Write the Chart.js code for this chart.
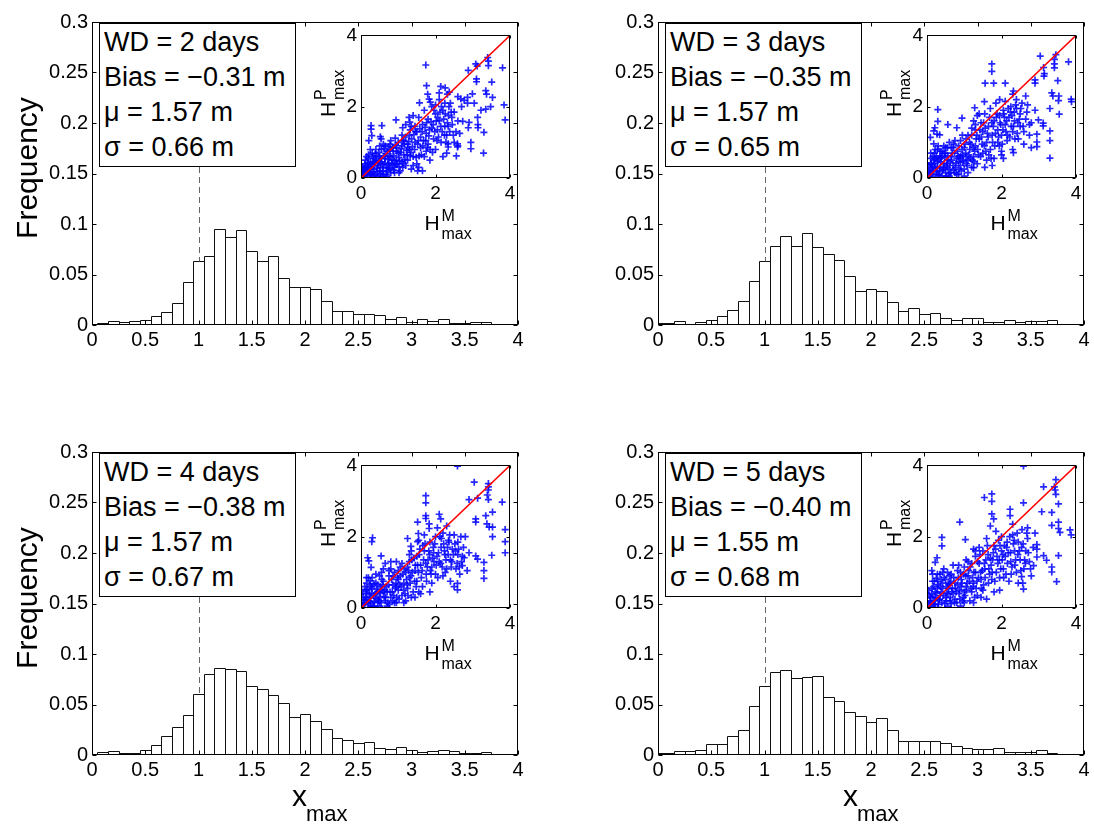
<!DOCTYPE html>
<html>
<head>
<meta charset="utf-8">
<title>x_max histograms</title>
<script src="https://cdn.jsdelivr.net/npm/chart.js@4.4.1/dist/chart.umd.min.js"></script>
<style>
  body{margin:0;background:#fff;}
  #fig{position:relative;width:1094px;height:826px;overflow:hidden;font-family:'Liberation Sans',Arial,Helvetica,sans-serif;color:#000;}
  #fig canvas{position:absolute;}
  .stats{position:absolute;width:197px;height:144px;border:1px solid #000;background:#fff;box-sizing:border-box;
         font-size:27px;line-height:35px;padding:1px 0 0 4px;white-space:nowrap;}
  .ylab{position:absolute;font-size:30px;transform:translate(-50%,-50%) rotate(-90deg);white-space:nowrap;}
  .xlab{position:absolute;width:0;height:0;}
  .xlab span,.hl span{position:absolute;line-height:1;white-space:nowrap;}
  .hl{position:absolute;width:0;height:0;transform-origin:0 0;}
</style>
</head>
<body>
<div id="fig"></div>
<script>
/* ── DATA ── */
const binCenters = [0,0.1,0.2,0.3,0.4,0.5,0.6,0.7,0.8,0.9,1,1.1,1.2,1.3,1.4,1.5,1.6,1.7,1.8,1.9,2,
                    2.1,2.2,2.3,2.4,2.5,2.6,2.7,2.8,2.9,3,3.1,3.2,3.3,3.4,3.5,3.6,3.7,3.8,3.9,4];

const freqWD2 = [0.001,0.0016,0.0039,0.0026,0.0036,0.0045,0.0087,0.0133,0.0217,0.0427,0.063,0.0686,0.0948,0.0874,0.0945,
                 0.0735,0.0631,0.068,0.0463,0.0372,0.0379,0.0356,0.024,0.0139,0.0139,0.0113,0.0104,0.0097,0.0055,0.0081,
                 0.0032,0.0055,0.0036,0.0055,0.0023,0.0016,0.0029,0.0026,0.0006,0.0013,0.0003];
const freqWD3 = [0.0015,0.002,0.0042,0.0006,0.0026,0.0045,0.0094,0.0149,0.024,0.0437,0.063,0.078,0.0877,0.078,0.0906,
                 0.0773,0.0702,0.064,0.0485,0.034,0.0359,0.034,0.0227,0.0139,0.0165,0.0104,0.0117,0.0068,0.0045,0.0074,
                 0.0074,0.0026,0.0026,0.0045,0.0029,0.0036,0.0042,0.0049,0.0003,0.0003,0];
const freqWD4 = [0.001,0.003,0.0042,0.0023,0.0023,0.0052,0.01,0.0188,0.0278,0.04,0.0608,0.0799,0.0858,0.0851,0.0832,
                 0.0686,0.065,0.0595,0.0515,0.0372,0.041,0.0333,0.0259,0.0172,0.0146,0.0123,0.0133,0.0065,0.0055,0.0084,
                 0.0045,0.0032,0.0036,0.0052,0.0036,0.0016,0.002,0.003,0.001,0.0006,0.0003];
const freqWD5 = [0.0016,0.0023,0.0042,0.0039,0.0052,0.0104,0.0104,0.019,0.025,0.0485,0.0686,0.082,0.0841,0.0767,0.0777,
                 0.0786,0.0573,0.0537,0.043,0.0382,0.0327,0.0366,0.0246,0.0139,0.0139,0.0136,0.0139,0.0117,0.0087,0.0068,
                 0.0055,0.0055,0.0065,0.0032,0.0026,0.0026,0.0045,0.0023,0,0.001,0];

const xTickVals = [0,0.5,1,1.5,2,2.5,3,3.5,4];
const xTickLabels = ['0','0.5','1','1.5','2','2.5','3','3.5','4'];
const yTickVals = [0,0.05,0.1,0.15,0.2,0.25,0.3];
const yTickLabels = ['0','0.05','0.1','0.15','0.2','0.25','0.3'];
const insetTickVals = [0,2,4];
const insetTickLabels = ['0','2','4'];
const diagLine = [0,4];
const markAt = 1;

const wdText = ['WD = 2 days','WD = 3 days','WD = 4 days','WD = 5 days'];
const biasText = ['\u22120.31','\u22120.35','\u22120.38','\u22120.40'];
const muText = ['1.57','1.57','1.57','1.55'];
const sigmaText = ['0.66','0.65','0.67','0.68'];

// H^M_max (x) vs H^P_max (y)
const scatterWD2 = [
  [1.74,3.17],[3.08,3.2],[3.12,3.14],[3.4,3.38],[3.42,3.28],[3.42,3.15],[3.8,3.09],[3.1,2.78],[3.1,2.7],[2.88,3.02],
  [3.51,2.69],[3.35,2.45],[3.37,2.35],[3.53,2.26],[3.84,2.05],[3.87,1.63],[3.48,2.0],[3.35,1.93],[3.22,1.9],[3.13,1.7],
  [3.14,1.5],[3.14,1.41],[3.3,1.28],[2.95,1.0],[2.95,0.82],[3.29,0.7],[2.56,0.62],[2.9,1.56],[2.88,1.41],[2.73,1.59],
  [2.59,0.96],[2.59,0.87],[2.34,0.96],[2.34,0.87],[1.76,2.59],[1.79,2.35],[1.83,2.21],[1.86,2.13],[2.1,2.39],[2.14,2.57],
  [2.26,2.53],[2.37,2.41],[2.32,2.35],[2.6,2.28],[2.68,2.22],[2.77,2.18],[2.86,2.26],[2.99,2.36],[3.04,2.1],[2.86,2.1],
  [1.57,2.11],[0.94,1.63],[0.56,1.47],[0.27,1.47],[0.27,1.37],[0.29,1.19],[0.21,1.05],[0.52,1.16],[0.54,1.1],[1.29,1.7],
  [1.31,1.57],[1.12,1.41],
  [0.05,0.05],[0.1,0.2],[0.15,0.1],[0.2,0.3],[0.25,0.15],[0.3,0.05],[0.3,0.4],[0.35,0.25],[0.4,0.1],[0.4,0.5],
  [0.45,0.35],[0.5,0.2],[0.5,0.6],[0.55,0.45],[0.6,0.3],[0.6,0.1],[0.1,0.4],[0.2,0.55],[0.05,0.3],[0.15,0.6],
  [0.3,0.7],[0.45,0.05],[0.65,0.55],[0.7,0.75],[0.7,0.2],[0.75,0.4],[0.8,0.6],[0.85,0.85],[0.9,0.3],[0.95,0.5],
  [1.0,0.7],[1.0,1.0],[1.05,0.2],[1.1,0.45],[1.1,0.9],[1.15,0.65],[1.2,1.15],[0.65,0.9],[0.8,1.05],[0.9,0.15],
  [0.7,0.05],[0.55,0.8],[0.4,0.8],[0.6,0.95],[1.2,0.35],[0.85,0.35],[0.95,0.75],[0.35,0.55],[0.25,0.45],[0.8,0.15],
  [1.25,0.5],[1.3,0.8],[1.3,1.2],[1.35,1.45],[1.4,0.6],[1.45,1.0],[1.5,1.3],[1.5,0.4],[1.55,1.7],[1.6,0.85],
  [1.6,1.15],[1.65,1.5],[1.7,0.6],[1.7,1.9],[1.75,1.25],[1.8,0.95],[1.8,1.65],[1.85,0.5],[1.9,1.4],[1.95,1.1],
  [2.0,1.8],[2.0,0.8],[1.4,1.75],[1.2,1.5],[1.55,0.3],[1.65,0.2],[1.9,2.0],[1.25,0.95],[1.4,0.35],[1.75,0.75],
  [2.05,1.35],[2.1,1.6],[2.15,1.0],[2.2,1.9],[2.25,1.45],[2.3,0.7],[2.3,1.2],[2.35,1.75],[2.4,2.1],[2.45,1.5],
  [2.5,1.0],[2.5,1.85],[2.55,1.3],[2.6,0.9],[2.1,2.2],[2.2,0.6],[2.6,1.6],[2.7,2.0],[2.65,1.25],[2.0,2.05],[2.25,2.1],
  [0.08,0.12],[0.12,0.32],[0.18,0.22],[0.22,0.08],[0.28,0.32],[0.32,0.18],[0.38,0.42],[0.42,0.28],[0.48,0.48],[0.52,0.12],
  [0.58,0.38],[0.62,0.62],[0.68,0.28],[0.72,0.52],[0.78,0.78],[0.82,0.42],[0.88,0.62],[0.92,0.92],[0.98,0.4],[1.02,0.58],
  [1.08,0.82],[1.12,0.3],[1.18,0.52],[1.22,0.78],[1.28,1.02],[0.18,0.42],[0.32,0.6],[0.48,0.72],[0.62,0.82],[0.78,0.95],
  [0.92,1.12],[0.58,0.18],[0.72,0.38],[0.88,0.22],[1.02,0.32],[1.32,0.62],[1.38,0.88],[1.42,1.22],[1.48,0.58],[1.52,0.95],
  [1.58,1.38],[1.62,0.65],[1.68,1.05],[1.72,1.42],[1.78,0.85],[1.82,1.18],[1.88,1.58],[1.92,0.72],[1.98,1.3],[2.02,1.6],
  [2.08,1.15],[2.12,1.85],[2.18,1.3],[2.22,1.65],[2.28,1.0],[2.32,1.55],[2.38,1.3],[2.42,1.85],[2.48,1.2],[1.1,1.2],
  [0.25,0.8],[0.12,0.5],[0.05,0.2],[0.42,0.62],[0.68,0.1],[0.78,0.25],[1.35,0.25],[1.52,0.2],[1.15,1.05],[1.45,1.45],
  [0.02,0.1],[0.06,0.25],[0.1,0.05],[0.14,0.18],[0.16,0.35],[0.22,0.25],[0.26,0.38],[0.28,0.12],[0.34,0.45],[0.36,0.08],
  [0.44,0.18],[0.46,0.42],[0.52,0.3],[0.54,0.55],[0.56,0.05],[0.64,0.42],[0.66,0.68],[0.74,0.28],[0.76,0.62],[0.84,0.5],
  [0.86,0.75],[0.94,0.38],[0.96,0.85],[1.04,0.48],[1.06,0.72],[1.14,0.4],[1.16,0.95],[1.24,0.65],[1.26,0.85],[1.34,0.72],
  [1.36,1.1],[1.44,0.8],[1.46,1.3],[1.54,1.05],[1.56,0.62],[1.64,1.3],[1.66,0.9],[1.74,1.05],[1.76,1.55],[1.84,1.35],
  [1.86,0.8],[1.94,1.5],[1.96,1.9],[2.04,1.05],[2.06,1.7],[2.14,1.45],[2.16,2.0],[2.24,1.2],[2.26,1.8],[2.34,1.45],
  [2.36,2.0],[2.44,1.7],[0.9,0.48],[0.74,0.88],[0.5,0.9],[0.38,0.68],[0.2,0.65],[1.12,1.05],[1.32,1.35],[1.02,0.15]
];
const scatterWD3 = [
  [1.74,3.2],[1.74,2.99],[3.04,3.42],[3.46,3.46],[3.42,3.33],[3.42,3.2],[3.42,3.09],[3.8,3.26],[3.13,3.1],[2.9,2.75],
  [2.9,2.66],[3.51,2.73],[3.15,2.93],[3.14,2.86],[3.35,2.39],[3.38,2.3],[3.54,2.3],[3.53,2.17],[3.87,2.21],[3.88,2.14],
  [3.55,1.79],[3.3,1.95],[2.99,1.63],[3.12,1.54],[3.12,1.46],[3.3,1.32],[2.95,1.23],[2.95,1.01],[2.95,0.88],[3.3,1.05],
  [3.3,0.56],[2.32,0.71],[2.0,0.65],[1.25,0.29],[1.56,2.66],[1.79,2.66],[2.1,2.66],[2.32,2.44],[1.28,1.97],[1.54,2.14],
  [0.29,1.92],[0.29,1.59],[0.21,1.41],[0.18,1.32],[0.27,1.23],[0.56,1.5],[0.94,1.68],[0.8,1.41],[0.09,1.14],[0.34,1.21],
  [0.18,0.96],
  [0.05,0.1],[0.1,0.25],[0.15,0.05],[0.2,0.4],[0.25,0.2],[0.3,0.1],[0.3,0.5],[0.35,0.3],[0.4,0.05],[0.4,0.6],
  [0.45,0.4],[0.5,0.15],[0.5,0.7],[0.55,0.5],[0.6,0.25],[0.05,0.35],[0.1,0.55],[0.2,0.7],[0.15,0.3],[0.35,0.75],
  [0.6,0.05],[0.65,0.6],[0.7,0.85],[0.7,0.35],[0.75,0.15],[0.8,0.55],[0.85,0.9],[0.9,0.35],[0.95,0.65],[1.0,0.85],
  [1.0,0.25],[1.05,1.1],[1.1,0.5],[1.15,0.8],[1.2,1.2],[1.2,0.3],[0.6,1.0],[0.8,0.1],[0.45,0.9],[0.9,1.05],
  [0.25,0.6],[0.55,0.3],[0.85,0.45],[1.05,0.6],[0.3,0.9],
  [1.25,0.6],[1.3,0.9],[1.3,1.35],[1.35,0.4],[1.4,1.1],[1.45,1.55],[1.5,0.7],[1.5,1.3],[1.55,1.8],[1.6,0.5],
  [1.6,1.0],[1.65,1.45],[1.7,0.8],[1.7,1.95],[1.75,1.2],[1.8,1.6],[1.8,0.55],[1.85,2.1],[1.9,1.0],[1.9,1.35],
  [1.95,1.75],[2.0,0.75],[2.0,1.2],[2.05,1.9],[1.4,1.8],[1.25,1.6],[1.55,0.3],[1.75,0.35],[1.95,2.2],
  [2.1,1.5],[2.1,2.15],[2.15,1.05],[2.2,1.7],[2.25,2.0],[2.3,1.3],[2.3,0.8],[2.35,1.6],[2.4,1.95],[2.4,2.2],
  [2.45,1.1],[2.5,1.45],[2.5,1.8],[2.55,2.1],[2.6,0.95],[2.6,1.3],[2.65,1.65],[2.7,2.05],[2.75,1.2],[2.8,1.55],
  [2.8,0.85],[2.9,1.9],[2.3,2.35],[2.05,0.55],[2.65,2.3],
  [0.08,0.15],[0.12,0.38],[0.18,0.18],[0.22,0.55],[0.28,0.28],[0.32,0.08],[0.38,0.45],[0.42,0.22],[0.48,0.58],[0.52,0.35],
  [0.58,0.12],[0.62,0.45],[0.68,0.7],[0.72,0.22],[0.78,0.42],[0.82,0.75],[0.88,0.55],[0.92,0.2],[0.98,0.5],[1.02,0.95],
  [1.08,0.35],[1.12,0.65],[1.18,0.95],[1.22,0.5],[1.28,0.75],[0.18,0.5],[0.35,0.62],[0.5,0.85],[0.65,0.85],[0.75,1.05],
  [0.95,1.2],[0.45,0.25],[0.85,0.1],[1.1,0.15],[1.32,1.1],[1.38,0.65],[1.42,1.35],[1.48,0.95],[1.52,1.55],[1.58,0.75],
  [1.62,1.25],[1.68,1.7],[1.72,0.55],[1.78,1.45],[1.82,0.9],[1.88,1.8],[1.92,1.15],[1.98,1.5],[2.02,0.95],[2.08,1.7],
  [2.12,1.3],[2.18,1.95],[2.22,1.15],[2.28,1.75],[2.32,1.45],[2.38,2.05],[2.42,1.25],[2.48,1.65],[2.52,1.95],[2.58,1.45],
  [0.1,0.7],[0.28,0.8],[1.2,1.4],[1.35,1.75],[2.68,1.85],[2.75,1.5],
  [0.02,0.2],[0.06,0.05],[0.1,0.42],[0.14,0.2],[0.16,0.6],[0.22,0.32],[0.26,0.1],[0.28,0.45],[0.34,0.18],[0.36,0.55],
  [0.44,0.3],[0.46,0.7],[0.52,0.05],[0.54,0.4],[0.56,0.62],[0.64,0.15],[0.66,0.5],[0.74,0.7],[0.76,0.3],[0.84,0.6],
  [0.86,0.25],[0.94,0.8],[0.96,0.45],[1.04,0.7],[1.06,0.4],[1.14,1.0],[1.16,0.55],[1.24,0.85],[1.26,0.45],[1.34,1.2],
  [1.36,0.8],[1.44,0.6],[1.46,1.15],[1.54,0.9],[1.56,1.4],[1.64,1.15],[1.66,0.65],[1.74,1.55],[1.76,1.0],[1.84,1.25],
  [1.86,1.7],[1.94,0.9],[1.96,1.55],[2.04,1.35],[2.06,1.8],[2.14,1.6],[2.16,1.2],[2.24,1.85],[2.26,1.45],[2.34,1.85],
  [2.36,1.1],[2.44,1.55],[0.9,0.62],[0.72,0.95],[0.55,0.85],[0.4,0.75],[0.22,0.8],[1.1,1.2],[1.3,1.5],[1.0,0.05]
];
const scatterWD4 = [
  [2.59,3.98],[3.04,3.53],[3.42,3.49],[3.42,3.4],[3.42,3.31],[3.39,3.17],[3.42,3.04],[2.9,3.04],[3.79,2.97],[3.13,3.08],
  [3.53,2.69],[1.74,3.15],[1.74,2.95],[1.74,2.59],[1.74,2.51],[1.52,2.41],[1.83,2.36],[1.83,2.23],[2.1,2.63],[2.14,2.5],
  [3.08,2.5],[3.08,2.41],[3.35,2.59],[3.38,2.36],[3.44,2.27],[3.53,2.27],[3.53,2.0],[3.87,2.2],[3.87,1.86],[3.87,1.55],
  [3.51,1.48],[3.3,1.28],[3.3,1.05],[3.3,0.83],[3.08,1.46],[3.13,1.37],[2.77,1.41],[2.72,1.19],[2.59,0.69],[2.59,0.51],
  [0.31,1.97],[0.29,1.86],[0.18,1.41],[0.21,1.32],[0.27,1.14],[0.54,1.46],[0.8,1.3],[0.25,0.76],[1.25,1.95],[1.54,2.09],
  [1.52,1.86],[1.34,1.73],
  [0.05,0.08],[0.1,0.22],[0.15,0.4],[0.2,0.12],[0.25,0.3],[0.3,0.55],[0.35,0.18],[0.4,0.4],[0.45,0.65],[0.5,0.05],
  [0.5,0.3],[0.55,0.52],[0.6,0.75],[0.65,0.2],[0.7,0.45],[0.75,0.9],[0.8,0.3],[0.85,0.65],[0.9,1.0],[0.95,0.15],
  [1.0,0.5],[1.0,0.8],[1.05,1.15],[1.1,0.35],[1.15,0.7],[1.2,1.0],[1.2,0.2],[0.05,0.45],[0.15,0.7],[0.3,0.85],
  [0.6,1.1],[0.4,0.95],[0.7,0.05],[0.85,0.2],[0.25,0.05],[0.65,1.25],[0.1,0.6],[0.35,0.68],[0.95,0.6],[0.45,0.15],
  [1.25,0.55],[1.3,0.85],[1.3,1.3],[1.35,1.6],[1.4,0.45],[1.45,1.05],[1.5,1.45],[1.5,0.75],[1.55,1.9],[1.6,1.2],
  [1.65,0.6],[1.7,1.6],[1.7,2.05],[1.75,0.95],[1.8,1.35],[1.85,1.85],[1.9,0.7],[1.9,1.15],[1.95,1.55],[2.0,2.0],
  [2.0,0.95],[1.45,0.3],[1.6,0.4],[1.25,1.15],[1.85,0.45],[2.05,2.25],
  [2.1,1.3],[2.15,1.7],[2.2,0.9],[2.2,2.1],[2.25,1.5],[2.3,1.1],[2.35,1.9],[2.4,0.75],[2.4,1.35],[2.45,1.65],
  [2.5,2.05],[2.55,1.1],[2.6,1.5],[2.6,1.85],[2.65,0.95],[2.7,1.3],[2.75,1.7],[2.8,2.0],[2.85,1.05],[2.3,2.3],
  [2.5,0.6],[2.9,1.55],
  [0.08,0.15],[0.12,0.3],[0.18,0.52],[0.22,0.2],[0.28,0.42],[0.32,0.05],[0.38,0.28],[0.42,0.52],[0.48,0.2],[0.52,0.42],
  [0.58,0.65],[0.62,0.32],[0.68,0.6],[0.72,0.15],[0.78,0.45],[0.82,0.8],[0.88,0.35],[0.92,0.55],[0.98,0.85],[1.02,0.25],
  [1.08,0.6],[1.12,0.95],[1.18,0.4],[1.22,0.8],[1.28,1.05],[0.15,0.85],[0.25,0.65],[0.5,0.9],[0.8,1.1],[0.95,1.3],
  [1.32,0.7],[1.38,1.0],[1.42,1.4],[1.48,0.6],[1.52,1.2],[1.58,1.65],[1.62,0.85],[1.68,1.35],[1.72,1.8],[1.78,1.15],
  [1.82,1.6],[1.88,0.95],[1.92,1.4],[1.98,1.8],[2.02,1.2],[2.08,1.55],[2.12,2.0],[2.18,1.15],[2.22,1.8],[2.28,1.35],
  [2.32,1.7],[2.38,2.05],[2.42,1.15],[2.48,1.5],[2.52,1.8],[2.58,1.25],[2.62,1.65],[2.68,2.0],[2.72,1.45],[1.15,0.15],
  [1.35,0.3],[1.55,0.45],[0.6,0.45],[0.4,0.7],[1.0,1.05],
  [0.02,0.15],[0.06,0.3],[0.1,0.1],[0.14,0.5],[0.16,0.25],[0.22,0.4],[0.26,0.15],[0.28,0.6],[0.34,0.35],[0.36,0.05],
  [0.44,0.45],[0.46,0.25],[0.52,0.6],[0.54,0.15],[0.56,0.8],[0.64,0.5],[0.66,0.3],[0.74,0.65],[0.76,0.1],[0.84,0.45],
  [0.86,0.9],[0.94,0.7],[0.96,0.3],[1.04,0.65],[1.06,0.9],[1.14,0.5],[1.16,1.1],[1.24,0.65],[1.26,0.35],[1.34,0.9],
  [1.36,1.35],[1.44,0.75],[1.46,1.2],[1.54,1.0],[1.56,1.5],[1.64,1.05],[1.66,1.75],[1.74,1.25],[1.76,0.75],[1.84,1.5],
  [1.86,1.05],[1.94,1.7],[1.96,1.3],[2.04,1.45],[2.06,0.85],[2.14,1.25],[2.16,1.95],[2.24,1.6],[2.26,1.0],[2.34,1.5],
  [2.36,1.85],[2.44,1.3],[2.54,1.6],[2.64,1.15],[0.9,0.15],[0.75,1.05],[0.55,1.0],[0.2,0.85],[1.1,1.25],[1.3,1.5]
];
const scatterWD5 = [
  [2.59,3.98],[3.13,3.4],[3.46,3.6],[3.42,3.4],[3.44,3.31],[3.46,3.19],[1.74,3.2],[1.74,2.99],[1.54,3.1],[2.59,2.95],
  [3.08,2.7],[3.53,2.92],[3.35,2.68],[2.23,2.77],[2.23,2.59],[1.74,2.64],[1.79,2.5],[0.88,2.41],[1.03,1.92],[0.4,1.98],
  [0.4,1.74],[0.27,1.41],[0.22,1.28],[0.13,1.05],[0.25,0.83],[3.53,2.41],[3.53,2.23],[3.57,2.12],[3.84,2.19],[3.87,2.05],
  [3.35,2.32],[2.95,1.78],[2.95,1.65],[2.95,1.43],[3.13,1.47],[3.21,1.34],[3.53,1.47],[3.35,1.15],[3.35,1.01],[3.48,0.74],
  [2.59,0.53],[2.57,0.7],[2.54,0.88],[2.86,1.19],
  [0.05,0.12],[0.1,0.3],[0.12,0.05],[0.2,0.2],[0.22,0.45],[0.3,0.1],[0.3,0.65],[0.35,0.35],[0.4,0.15],[0.42,0.55],
  [0.5,0.3],[0.5,0.8],[0.55,0.05],[0.58,0.55],[0.62,0.2],[0.65,0.95],[0.7,0.4],[0.75,0.7],[0.8,0.15],[0.82,1.05],
  [0.88,0.5],[0.92,0.8],[0.98,0.3],[1.0,1.15],[1.05,0.6],[1.1,0.9],[1.15,0.2],[1.2,1.25],[1.2,0.45],[0.05,0.5],
  [0.15,0.75],[0.28,0.95],[0.45,1.1],[0.7,1.2],[0.38,0.8],[0.9,0.05],[0.6,0.7],[0.18,0.6],[1.0,0.45],[0.75,0.25],
  [1.25,0.7],[1.3,1.0],[1.3,1.45],[1.35,0.35],[1.4,1.25],[1.45,0.8],[1.5,1.6],[1.5,0.5],[1.55,1.1],[1.6,1.95],
  [1.65,0.7],[1.7,1.4],[1.75,1.0],[1.8,1.75],[1.8,0.45],[1.85,2.15],[1.9,1.25],[1.95,0.85],[2.0,1.6],[2.0,2.0],
  [1.4,1.7],[1.6,0.25],[1.7,2.3],[1.25,1.65],[1.95,0.5],
  [2.05,1.1],[2.1,1.45],[2.15,1.85],[2.2,0.75],[2.25,1.3],[2.3,2.05],[2.35,1.6],[2.4,1.0],[2.45,1.85],[2.5,1.35],
  [2.55,2.2],[2.6,1.1],[2.65,1.6],[2.7,1.95],[2.75,1.3],[2.8,0.9],[2.85,1.7],[2.9,2.1],[2.45,0.7],[2.3,2.35],[2.7,2.25],
  [0.08,0.2],[0.12,0.4],[0.18,0.1],[0.22,0.3],[0.28,0.55],[0.32,0.22],[0.38,0.45],[0.42,0.7],[0.48,0.12],[0.52,0.42],
  [0.58,0.65],[0.62,0.3],[0.68,0.55],[0.72,0.85],[0.78,0.45],[0.82,0.65],[0.88,0.25],[0.92,0.6],[0.98,0.95],[1.02,0.35],
  [1.08,0.7],[1.12,1.05],[1.18,0.55],[1.22,0.85],[1.28,0.3],[0.15,0.95],[0.35,0.95],[0.55,1.0],[0.85,1.2],[1.05,1.35],
  [1.32,0.55],[1.38,0.85],[1.42,1.5],[1.48,1.05],[1.52,0.65],[1.58,1.35],[1.62,1.75],[1.68,0.95],[1.72,1.2],[1.78,1.55],
  [1.82,0.75],[1.88,1.45],[1.92,1.9],[1.98,1.1],[2.02,1.35],[2.08,1.75],[2.12,0.95],[2.18,1.55],[2.22,2.0],[2.28,1.15],
  [2.32,1.8],[2.38,1.35],[2.42,2.1],[2.48,1.6],[2.52,1.05],[2.58,1.8],[2.62,1.35],[2.68,2.1],[2.72,1.55],[2.78,1.1],
  [0.3,0.02],[0.65,0.12],[1.0,0.15],[1.25,0.15],[1.45,0.3],
  [0.02,0.05],[0.06,0.35],[0.1,0.15],[0.14,0.55],[0.16,0.3],[0.22,0.1],[0.26,0.42],[0.28,0.75],[0.34,0.25],[0.36,0.6],
  [0.44,0.35],[0.46,0.85],[0.52,0.2],[0.54,0.6],[0.56,0.4],[0.64,0.75],[0.66,0.45],[0.74,0.15],[0.76,0.55],[0.84,0.85],
  [0.86,0.4],[0.94,0.7],[0.96,0.2],[1.04,0.9],[1.06,0.5],[1.14,0.75],[1.16,1.15],[1.24,0.6],[1.26,1.0],[1.34,0.75],
  [1.36,1.3],[1.44,1.0],[1.46,0.55],[1.54,1.25],[1.56,0.85],[1.64,1.5],[1.66,1.1],[1.74,0.8],[1.76,1.35],[1.84,1.65],
  [1.86,1.0],[1.94,1.35],[1.96,1.75],[2.04,1.5],[2.06,0.85],[2.14,1.7],[2.16,1.25],[2.24,1.55],[2.26,0.95],[2.34,1.9],
  [2.36,1.2],[2.44,1.5],[2.54,1.7],[2.64,1.25],[0.9,1.0],[0.6,0.9],[0.42,1.0],[0.2,0.75],[1.1,1.3],[1.3,1.6]
];

const freqs = [freqWD2, freqWD3, freqWD4, freqWD5];
const scatters = [scatterWD2, scatterWD3, scatterWD4, scatterWD5];

/* ── LAYOUT ── */
const panels = [{l:92,t:16},{l:658,t:16},{l:92,t:446},{l:658,t:446}];
const AREA_W = 426, AREA_H = 309, INSET_W = 149, INSET_H = 148;

Chart.defaults.font.family = "'Liberation Sans', Arial, Helvetica, sans-serif";
Chart.defaults.color = '#000';

const fig = document.getElementById('fig');
function addCanvas(l, t, w, h){
  const c = document.createElement('canvas');
  c.width = w; c.height = h;
  c.style.left = l+'px'; c.style.top = t+'px'; c.style.width = w+'px'; c.style.height = h+'px';
  fig.appendChild(c);
  return c;
}

/* ── DECORATION PLUGIN: white area, bar outlines, dashed marker, box + inward ticks ── */
const decoPlugin = {
  id:'deco',
  beforeDatasetsDraw(chart, args, o){
    if(!o.whiteBg) return;
    const a = chart.chartArea, ctx = chart.ctx;
    ctx.save(); ctx.fillStyle = '#fff'; ctx.fillRect(a.left, a.top, a.width, a.height); ctx.restore();
  },
  afterDatasetsDraw(chart, args, o){
    const {ctx, chartArea:a} = chart;
    const xs = chart.scales.x, ys = chart.scales.y;
    ctx.save();
    ctx.beginPath(); ctx.rect(a.left, a.top, a.width, a.height); ctx.clip();
    if(o.outline){
      ctx.strokeStyle = '#111'; ctx.lineWidth = 1;
      ctx.beginPath();
      chart.getDatasetMeta(0).data.forEach(b => {
        const l = Math.round(b.x - b.width/2)+0.5, r = Math.round(b.x + b.width/2)+0.5;
        const t = Math.round(b.y)+0.5, bt = Math.round(b.base)+0.5;
        ctx.moveTo(l, bt); ctx.lineTo(l, t); ctx.lineTo(r, t); ctx.lineTo(r, bt);
      });
      ctx.stroke();
    }
    ctx.restore();
    if(o.dash){
      const px = Math.round(xs.getPixelForValue(o.dash.x))+0.5;
      ctx.save();
      ctx.strokeStyle = '#666'; ctx.lineWidth = 1; ctx.setLineDash([6,4]);
      ctx.beginPath(); ctx.moveTo(px, o.dash.topPx); ctx.lineTo(px, ys.getPixelForValue(o.dash.y)); ctx.stroke();
      ctx.restore();
    }
    const L = Math.round(a.left)+0.5, R = Math.round(a.right)-0.5, T = Math.round(a.top)+0.5, B = Math.round(a.bottom)-0.5;
    const len = o.tick;
    ctx.save();
    ctx.strokeStyle = '#000'; ctx.lineWidth = 1;
    ctx.beginPath();
    xs.ticks.forEach(t => { const p = Math.round(xs.getPixelForValue(t.value))+0.5;
      ctx.moveTo(p,B); ctx.lineTo(p,B-len); ctx.moveTo(p,T); ctx.lineTo(p,T+len); });
    ys.ticks.forEach(t => { const p = Math.round(ys.getPixelForValue(t.value))+0.5;
      ctx.moveTo(L,p); ctx.lineTo(L+len,p); ctx.moveTo(R,p); ctx.lineTo(R-len,p); });
    ctx.stroke();
    ctx.strokeRect(L, T, R-L, B-T);
    ctx.restore();
  }
};

function axis(vals, labels, size, pad, fit){
  return {
    type:'linear', min:vals[0], max:vals[vals.length-1], offset:false,
    afterBuildTicks: s => { s.ticks = vals.map(v => ({value:v})); },
    afterFit: fit,
    ticks:{autoSkip:false, maxRotation:0, padding:pad, color:'#000', font:{size:size},
           callback:(v,i) => labels[i]},
    grid:{display:false, drawTicks:false, offset:false},
    border:{display:false}
  };
}

function hLabel(sup, x, y, rotate){
  const d = document.createElement('div');
  d.className = 'hl';
  d.style.left = x+'px'; d.style.top = y+'px';
  if(rotate) d.style.transform = 'rotate(-90deg)';
  d.innerHTML = '<span style="font-size:21px;left:0;top:0">H</span>'+
                '<span style="font-size:16px;left:17px;top:-4px">'+sup+'</span>'+
                '<span style="font-size:16px;left:17px;top:14px">max</span>';
  fig.appendChild(d);
}

panels.forEach((p, k) => {
  const hist = freqs[k];
  /* main histogram */
  const cv = addCanvas(p.l-56, p.t-10, 56+AREA_W+12, 10+AREA_H+32);
  new Chart(cv, {
    type:'bar',
    data:{datasets:[{
      data: binCenters.map((c,i) => ({x:c, y:hist[i]})),
      backgroundColor:'#fff', borderWidth:0, barPercentage:1, categoryPercentage:1, clip:0
    }]},
    options:{
      responsive:false, animation:false, events:[],
      layout:{padding:{top:10, right:12, left:0, bottom:0}},
      plugins:{legend:{display:false}, tooltip:{enabled:false},
        deco:{outline:true, tick:4, dash:{x:markAt, y:hist[binCenters.indexOf(markAt)], topPx:10+7+144}}},
      scales:{
        x: axis(xTickVals, xTickLabels, 20, 3, s => { s.height = 32; }),
        y: axis(yTickVals, yTickLabels, 20, 4, s => { s.width = 56; })
      }
    },
    plugins:[decoPlugin]
  });

  /* stats box */
  const box = document.createElement('div');
  box.className = 'stats';
  box.style.left = (p.l+7)+'px'; box.style.top = (p.t+7)+'px';
  box.innerHTML = [wdText[k], 'Bias = '+biasText[k]+' m', '\u03bc = '+muText[k]+' m', '\u03c3 = '+sigmaText[k]+' m']
                  .map(s => '<div>'+s+'</div>').join('');
  fig.appendChild(box);

  /* inset scatter */
  const il = p.l+269, it = p.t+14;
  const ic = addCanvas(il-36, it-10, 36+INSET_W+10, 10+INSET_H+30);
  new Chart(ic, {
    type:'scatter',
    data:{datasets:[
      {type:'line', data: diagLine.map(v => ({x:v, y:v})), borderColor:'#ff0000', borderWidth:1.5,
       pointRadius:0, order:1, clip:0},
      {data: scatters[k].map(q => ({x:q[0], y:q[1]})), pointStyle:'cross', pointRadius:3.5,
       borderColor:'rgba(0,0,255,0.85)', backgroundColor:'rgba(0,0,255,0.85)', borderWidth:1.7, order:2}
    ]},
    options:{
      responsive:false, animation:false, events:[],
      layout:{padding:{top:10, right:10, left:0, bottom:0}},
      plugins:{legend:{display:false}, tooltip:{enabled:false}, deco:{whiteBg:true, tick:3}},
      scales:{
        x: axis(insetTickVals, insetTickLabels, 19, 4, s => { s.height = 30; }),
        y: axis(insetTickVals, insetTickLabels, 19, 4, s => { s.width = 36; })
      }
    },
    plugins:[decoPlugin]
  });
  hLabel('M', il+INSET_W/2-11, it+INSET_H+34, false);
  hLabel('P', il-44.5, it+INSET_H/2+13, true);
});

/* axis titles */
[168, 598].forEach(cy => {
  const d = document.createElement('div');
  d.className = 'ylab'; d.textContent = 'Frequency';
  d.style.left = '27px'; d.style.top = cy+'px';
  fig.appendChild(d);
});
[[panels[2], 292], [panels[3], 843]].forEach(([p, lx]) => {
  const d = document.createElement('div');
  d.className = 'xlab';
  d.style.left = lx+'px'; d.style.top = '781px';
  d.innerHTML = '<span style="font-size:30px;left:0;top:0">x</span><span style="font-size:22px;left:14px;top:22px">max</span>';
  fig.appendChild(d);
});
</script>
</body>
</html>
